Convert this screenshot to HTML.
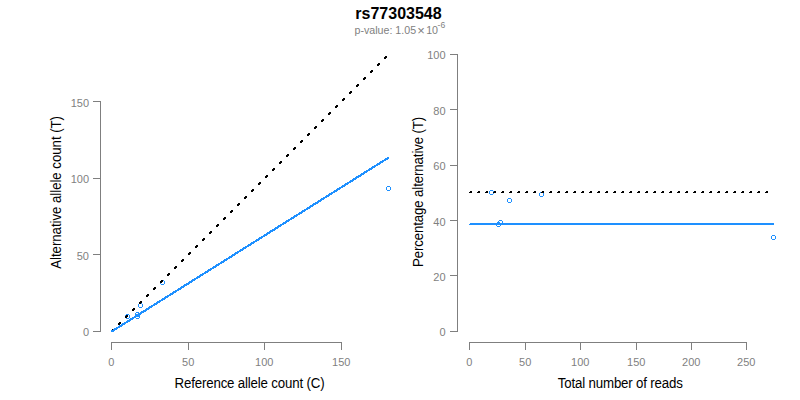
<!DOCTYPE html>
<html><head><meta charset="utf-8"><title>rs77303548</title>
<style>
html,body{margin:0;padding:0;background:#fff;}
body{width:800px;height:400px;overflow:hidden;}
svg{display:block;font-family:"Liberation Sans",sans-serif;}
.ax{stroke:#7f7f7f;stroke-width:1;fill:none;shape-rendering:crispEdges;}
.tl{fill:#7f7f7f;font-size:11px;}
.lab{fill:#000;font-size:13.3px;letter-spacing:-0.17px;}
.pt{fill:none;stroke:#1e90ff;stroke-width:1;}
.bl{stroke:#1e90ff;stroke-width:2;fill:none;stroke-linecap:round;}
.dot{fill:#000;}
</style></head><body>
<svg width="800" height="400" viewBox="0 0 800 400">
<rect width="800" height="400" fill="#fff"/>

<text x="398.5" y="18.7" text-anchor="middle" font-size="16px" font-weight="bold" fill="#000">rs77303548</text>
<text x="354.5" y="34" font-size="10.67px" fill="#7f7f7f">p-value: 1.05</text>
<text x="421.1" y="35.0" font-size="13px" text-anchor="middle" fill="#7f7f7f">×</text>
<text x="426.2" y="34" font-size="10.67px" fill="#7f7f7f">10</text>
<text x="437.6" y="27.8" font-size="8.6px" fill="#7f7f7f">-6</text>
<path class="ax" d="M100.5 101V332"/>
<path class="ax" d="M93 331.5H100.5"/>
<text class="tl" x="89.0" y="336.0" text-anchor="end">0</text>
<path class="ax" d="M93 254.5H100.5"/>
<text class="tl" x="89.0" y="260.0" text-anchor="end">50</text>
<path class="ax" d="M93 178.5H100.5"/>
<text class="tl" x="89.0" y="183.0" text-anchor="end">100</text>
<path class="ax" d="M93 101.5H100.5"/>
<text class="tl" x="89.0" y="107.0" text-anchor="end">150</text>
<path class="ax" d="M111 342.5H342"/>
<path class="ax" d="M111.5 342V350"/>
<text class="tl" x="111.2" y="366" text-anchor="middle">0</text>
<path class="ax" d="M188.5 342V350"/>
<text class="tl" x="188.2" y="366" text-anchor="middle">50</text>
<path class="ax" d="M264.5 342V350"/>
<text class="tl" x="264.2" y="366" text-anchor="middle">100</text>
<path class="ax" d="M341.5 342V350"/>
<text class="tl" x="341.2" y="366" text-anchor="middle">150</text>
<text class="lab" transform="translate(249.5 388.1) scale(1 1.06)" text-anchor="middle">Reference allele count (C)</text>
<text class="lab" style="letter-spacing:-0.055px" transform="translate(60.7 192.4) rotate(-90) scale(1 1.06)" text-anchor="middle">Alternative allele count (T)</text>
<path fill="#1e90ff" shape-rendering="crispEdges" d="M126 314h3v1h-3zM126 318h3v1h-3zM125 315h1v3h-1zM129 315h1v3h-1z"/>
<path fill="#1e90ff" shape-rendering="crispEdges" d="M136 314h3v1h-3zM136 318h3v1h-3zM135 315h1v3h-1zM139 315h1v3h-1z"/>
<path fill="#1e90ff" shape-rendering="crispEdges" d="M136 312h3v1h-3zM136 316h3v1h-3zM135 313h1v3h-1zM139 313h1v3h-1z"/>
<path fill="#1e90ff" shape-rendering="crispEdges" d="M139 303h3v1h-3zM139 307h3v1h-3zM138 304h1v3h-1zM142 304h1v3h-1z"/>
<path fill="#1e90ff" shape-rendering="crispEdges" d="M161 280h3v1h-3zM161 284h3v1h-3zM160 281h1v3h-1zM164 281h1v3h-1z"/>
<path fill="#1e90ff" shape-rendering="crispEdges" d="M387 186h3v1h-3zM387 190h3v1h-3zM386 187h1v3h-1zM390 187h1v3h-1z"/>
<path class="dot" shape-rendering="crispEdges" d="M112 329h2v2h-1v1h-2v-2h1zM119 322h2v2h-1v1h-2v-2h1zM126 315h2v2h-1v1h-2v-2h1zM133 308h2v2h-1v1h-2v-2h1zM140 301h2v2h-1v1h-2v-2h1zM147 294h2v2h-1v1h-2v-2h1zM154 287h2v2h-1v1h-2v-2h1zM161 280h2v2h-1v1h-2v-2h1zM168 273h2v2h-1v1h-2v-2h1zM175 266h2v2h-1v1h-2v-2h1zM182 259h2v2h-1v1h-2v-2h1zM189 252h2v2h-1v1h-2v-2h1zM196 245h2v2h-1v1h-2v-2h1zM203 238h2v2h-1v1h-2v-2h1zM210 231h2v2h-1v1h-2v-2h1zM217 224h2v2h-1v1h-2v-2h1zM224 217h2v2h-1v1h-2v-2h1zM231 210h2v2h-1v1h-2v-2h1zM238 203h2v2h-1v1h-2v-2h1zM245 196h2v2h-1v1h-2v-2h1zM252 189h2v2h-1v1h-2v-2h1zM259 182h2v2h-1v1h-2v-2h1zM266 175h2v2h-1v1h-2v-2h1zM273 168h2v2h-1v1h-2v-2h1zM280 161h2v2h-1v1h-2v-2h1zM287 154h2v2h-1v1h-2v-2h1zM294 147h2v2h-1v1h-2v-2h1zM301 140h2v2h-1v1h-2v-2h1zM308 133h2v2h-1v1h-2v-2h1zM315 126h2v2h-1v1h-2v-2h1zM322 119h2v2h-1v1h-2v-2h1zM329 112h2v2h-1v1h-2v-2h1zM336 105h2v2h-1v1h-2v-2h1zM343 98h2v2h-1v1h-2v-2h1zM350 91h2v2h-1v1h-2v-2h1zM357 84h2v2h-1v1h-2v-2h1zM364 77h2v2h-1v1h-2v-2h1zM371 70h2v2h-1v1h-2v-2h1zM378 63h2v2h-1v1h-2v-2h1zM385 56h2v2h-1v1h-2v-2h1z"/>
<path class="bl" shape-rendering="crispEdges" style="stroke-width:2.15" d="M112 331.3L388.3 157.8"/>
<path class="ax" d="M457.5 54V332"/>
<path class="ax" d="M450 331.5H457.5"/>
<text class="tl" x="445.6" y="336.0" text-anchor="end">0</text>
<path class="ax" d="M450 275.5H457.5"/>
<text class="tl" x="445.6" y="281.0" text-anchor="end">20</text>
<path class="ax" d="M450 220.5H457.5"/>
<text class="tl" x="445.6" y="226.0" text-anchor="end">40</text>
<path class="ax" d="M450 165.5H457.5"/>
<text class="tl" x="445.6" y="170.0" text-anchor="end">60</text>
<path class="ax" d="M450 109.5H457.5"/>
<text class="tl" x="445.6" y="115.0" text-anchor="end">80</text>
<path class="ax" d="M450 54.5H457.5"/>
<text class="tl" x="445.6" y="59.0" text-anchor="end">100</text>
<path class="ax" d="M469 342.5H747"/>
<path class="ax" d="M469.5 342V350"/>
<text class="tl" x="469.2" y="366" text-anchor="middle">0</text>
<path class="ax" d="M525.5 342V350"/>
<text class="tl" x="525.2" y="366" text-anchor="middle">50</text>
<path class="ax" d="M580.5 342V350"/>
<text class="tl" x="580.2" y="366" text-anchor="middle">100</text>
<path class="ax" d="M636.5 342V350"/>
<text class="tl" x="636.2" y="366" text-anchor="middle">150</text>
<path class="ax" d="M691.5 342V350"/>
<text class="tl" x="691.2" y="366" text-anchor="middle">200</text>
<path class="ax" d="M746.5 342V350"/>
<text class="tl" x="746.2" y="366" text-anchor="middle">250</text>
<text class="lab" transform="translate(620.3 388.1) scale(1 1.06)" text-anchor="middle">Total number of reads</text>
<text class="lab" style="letter-spacing:-0.13px" transform="translate(422.7 192.0) rotate(-90) scale(1 1.06)" text-anchor="middle">Percentage alternative (T)</text>
<path fill="#1e90ff" shape-rendering="crispEdges" d="M490 190h3v1h-3zM490 194h3v1h-3zM489 191h1v3h-1zM493 191h1v3h-1z"/>
<path fill="#1e90ff" shape-rendering="crispEdges" d="M508 198h3v1h-3zM508 202h3v1h-3zM507 199h1v3h-1zM511 199h1v3h-1z"/>
<path fill="#1e90ff" shape-rendering="crispEdges" d="M540 192h3v1h-3zM540 196h3v1h-3zM539 193h1v3h-1zM543 193h1v3h-1z"/>
<path fill="#1e90ff" shape-rendering="crispEdges" d="M499 220h3v1h-3zM499 224h3v1h-3zM498 221h1v3h-1zM502 221h1v3h-1z"/>
<path fill="#1e90ff" shape-rendering="crispEdges" d="M497 222h3v1h-3zM497 226h3v1h-3zM496 223h1v3h-1zM500 223h1v3h-1z"/>
<path fill="#1e90ff" shape-rendering="crispEdges" d="M772 235h3v1h-3zM772 239h3v1h-3zM771 236h1v3h-1zM775 236h1v3h-1z"/>
<path class="dot" shape-rendering="crispEdges" d="M469 193h3v-2h-2v1h-1zM477 193h3v-2h-2v1h-1zM485 193h3v-2h-2v1h-1zM493 193h3v-2h-2v1h-1zM501 193h3v-2h-2v1h-1zM509 193h3v-2h-2v1h-1zM517 193h3v-2h-2v1h-1zM525 193h3v-2h-2v1h-1zM533 193h3v-2h-2v1h-1zM541 193h3v-2h-2v1h-1zM549 193h3v-2h-2v1h-1zM557 193h3v-2h-2v1h-1zM565 193h3v-2h-2v1h-1zM573 193h3v-2h-2v1h-1zM581 193h3v-2h-2v1h-1zM589 193h3v-2h-2v1h-1zM597 193h3v-2h-2v1h-1zM605 193h3v-2h-2v1h-1zM613 193h3v-2h-2v1h-1zM621 193h3v-2h-2v1h-1zM629 193h3v-2h-2v1h-1zM637 193h3v-2h-2v1h-1zM645 193h3v-2h-2v1h-1zM653 193h3v-2h-2v1h-1zM661 193h3v-2h-2v1h-1zM669 193h3v-2h-2v1h-1zM677 193h3v-2h-2v1h-1zM685 193h3v-2h-2v1h-1zM693 193h3v-2h-2v1h-1zM701 193h3v-2h-2v1h-1zM709 193h3v-2h-2v1h-1zM717 193h3v-2h-2v1h-1zM725 193h3v-2h-2v1h-1zM733 193h3v-2h-2v1h-1zM741 193h3v-2h-2v1h-1zM749 193h3v-2h-2v1h-1zM757 193h3v-2h-2v1h-1zM765 193h3v-2h-2v1h-1z"/>
<path fill="#1e90ff" shape-rendering="crispEdges" d="M469 225H774V223H470V224H469z"/>
</svg></body></html>
